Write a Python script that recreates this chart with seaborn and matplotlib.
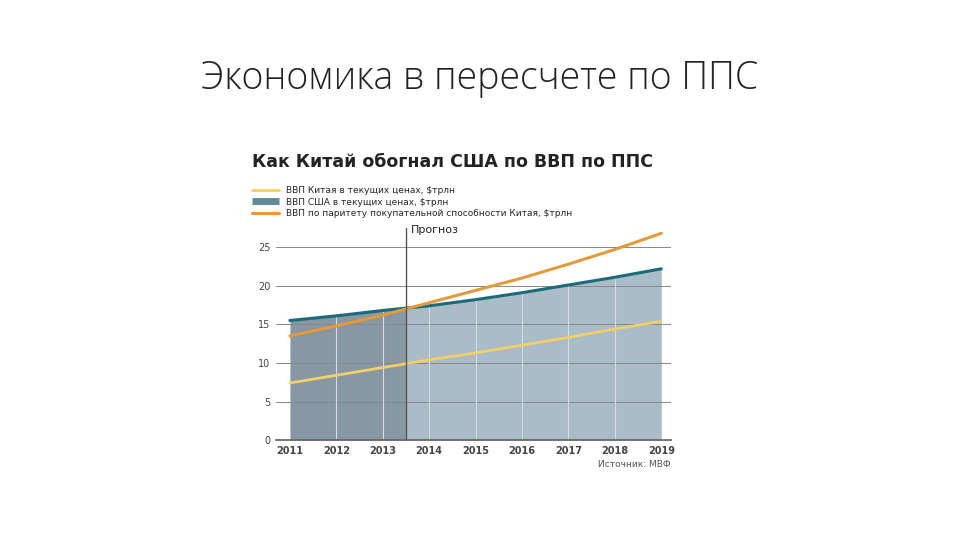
import matplotlib
matplotlib.use('Agg')
import matplotlib.pyplot as plt
import seaborn as sns
import numpy as np

years = [2011, 2012, 2013, 2014, 2015, 2016, 2017, 2018, 2019]
usa_gdp = [15.5, 16.1, 16.8, 17.4, 18.2, 19.1, 20.1, 21.1, 22.2]
china_gdp = [7.4, 8.4, 9.4, 10.4, 11.3, 12.3, 13.3, 14.4, 15.4]
china_ppp = [13.5, 14.8, 16.2, 17.8, 19.4, 21.0, 22.8, 24.7, 26.8]
forecast_start = 2013.5

sns.set_theme(style='white')
plt.rcParams['font.family'] = ['DejaVu Sans']

fig = plt.figure(figsize=[9.6, 5.4], dpi=100)
fig.text(0.5, 0.835, 'Экономика в пересчете по ППС', ha='center', fontsize=27,
         color='#222222', family=['Open Sans', 'DejaVu Sans'], fontweight='light')
fig.text(0.262, 0.69, 'Как Китай обогнал США по ВВП по ППС', fontsize=12.5,
         fontweight='bold', color='#222222')

ax = fig.add_axes([0.2875, 0.185, 0.411, 0.393])
yrs = np.array(years, dtype=float)
usa = np.array(usa_gdp)
# split fill at forecast start
u_split = np.interp(forecast_start, yrs, usa)
m = yrs < forecast_start
ax.fill_between(np.r_[yrs[m], forecast_start], np.r_[usa[m], u_split], color='#8797a3', lw=0)
ax.fill_between(np.r_[forecast_start, yrs[~m]], np.r_[u_split, usa[~m]], color='#a9bcc8', lw=0)

for y in [5, 10, 15, 20, 25]:
    ax.axhline(y, color='#888888', lw=0.7, zorder=1)
for x in years[1:-1]:
    ax.plot([x, x], [0, np.interp(x, yrs, usa)], color='#d5dde3', lw=0.8, zorder=2)

sns.lineplot(x=years, y=usa_gdp, ax=ax, color='#1d6a78', lw=2.2, zorder=5, label='ВВП США в текущих ценах, $трлн')
sns.lineplot(x=years, y=china_gdp, ax=ax, color='#f3cf6a', lw=2, zorder=5, label='ВВП Китая в текущих ценах, $трлн')
sns.lineplot(x=years, y=china_ppp, ax=ax, color='#e39a3c', lw=2.2, zorder=6,
             label='ВВП по паритету покупательной способности Китая, $трлн')
ax.axvline(forecast_start, color='#555555', lw=1, zorder=7)
ax.text(forecast_start + 0.1, 26.8, 'Прогноз', fontsize=8, color='#222222')

ax.set_xlim(2010.7, 2019.2)
ax.set_ylim(0, 27.5)
ax.set_xticks(years)
ax.set_xticklabels([str(y) for y in years], fontsize=7, fontweight='bold', color='#444444')
ax.set_yticks([0, 5, 10, 15, 20, 25])
ax.set_yticklabels(['0', '5', '10', '15', '20', '25'], fontsize=7, color='#444444')
ax.tick_params(axis='both', length=0, pad=4)
for s in ['top', 'right', 'left']:
    ax.spines[s].set_visible(False)
ax.spines['bottom'].set_color('#666666')
ax.text(2019.2, -3.5, 'Источник: МВФ', ha='right', fontsize=6.5, color='#555555')

h, l = ax.get_legend_handles_labels()
order = [1, 0, 2]
leg = ax.legend([h[i] for i in order], [l[i] for i in order], loc='lower left',
                bbox_to_anchor=(-0.07, 1.03), frameon=False, fontsize=6.5,
                handlelength=3, labelspacing=0.25, borderaxespad=0)
leg.legend_handles[1].set_linewidth(5)
leg.legend_handles[1].set_color('#5f8a98')
leg.legend_handles[1].set_solid_capstyle('butt')

fig.savefig('out.png', dpi=100)
